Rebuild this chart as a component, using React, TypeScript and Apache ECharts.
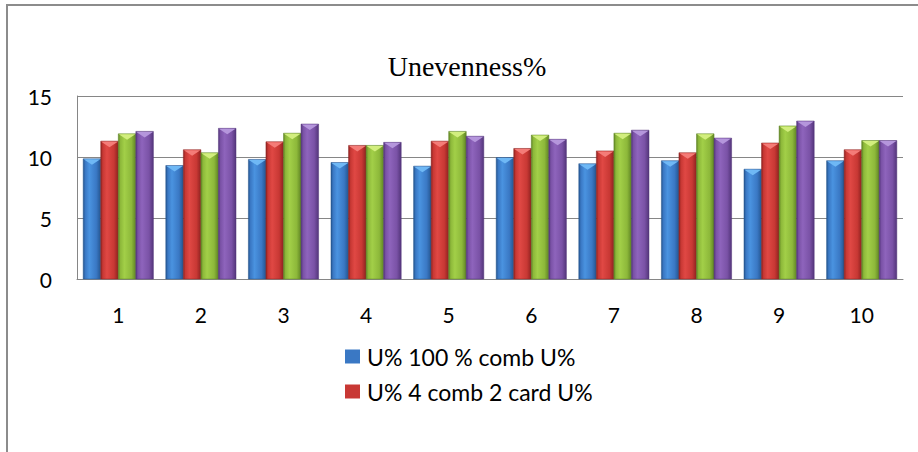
import React, { useEffect, useRef } from "react";
import * as echarts from "echarts";

const categories = ["1", "2", "3", "4", "5", "6", "7", "8", "9", "10"];
const comb100 = [9.85, 9.3, 9.8, 9.55, 9.25, 9.95, 9.45, 9.7, 9.0, 9.7];
const comb4card2 = [11.3, 10.6, 11.25, 10.95, 11.3, 10.7, 10.5, 10.35, 11.15, 10.6];
const series3 = [11.9, 10.35, 11.95, 10.95, 12.1, 11.8, 11.95, 11.9, 12.55, 11.35];
const series4 = [12.1, 12.35, 12.7, 11.2, 11.7, 11.45, 12.2, 11.55, 12.95, 11.35];
const seriesNames = ["U% 100 % comb U%", "U% 4 comb 2 card U%", "Series 3", "Series 4"];
const yTicks = [0, 5, 10, 15];

// base, dark edge, light centre, bevel cap
const palettes = [
  ["#3A78C4", "#24558F", "#4A93E0", "#6FB8F5"],
  ["#C83834", "#8E2220", "#E04844", "#F47C78"],
  ["#8DB83A", "#5F8424", "#A2CF48", "#D2EE7E"],
  ["#7A52A6", "#53357A", "#8E64BC", "#B596DC"],
];

const App: React.FC = () => {
  const ref = useRef<HTMLDivElement>(null);

  useEffect(() => {
    if (!ref.current) return;
    const chart = echarts.init(ref.current, undefined, { renderer: "svg" });
    const all = [comb100, comb4card2, series3, series4];

    const makeSeries = (values: number[], si: number) => ({
      type: "custom",
      name: seriesNames[si],
      data: values.map((v, i) => [i, v]),
      encode: { x: 0, y: 1 },
      itemStyle: { color: palettes[si][0] },
      renderItem: (_params: any, api: any) => {
        const idx = api.value(0);
        const val = api.value(1);
        const top = api.coord([idx, val]);
        const base = api.coord([idx, 0]);
        const band = api.size([1, 0])[0];
        const w = (band * 0.85) / 4;
        const x = top[0] - 2 * w + si * w;
        const yTop = top[1];
        const h = base[1] - yTop;
        const p = palettes[si];
        const cap = Math.min(6, h);
        return {
          type: "group",
          children: [
            {
              type: "rect",
              shape: { x, y: yTop, width: w, height: h },
              style: {
                fill: new echarts.graphic.LinearGradient(0, 0, 1, 0, [
                  { offset: 0, color: p[1] },
                  { offset: 0.12, color: p[0] },
                  { offset: 0.35, color: p[2] },
                  { offset: 0.75, color: p[0] },
                  { offset: 1, color: p[1] },
                ]),
                stroke: p[1],
                lineWidth: 0.5,
              },
            },
            {
              type: "polygon",
              shape: {
                points: [
                  [x + 0.5, yTop + 0.5],
                  [x + w - 0.5, yTop + 0.5],
                  [x + w / 2, yTop + cap],
                ],
              },
              style: { fill: p[3] },
            },
          ],
        };
      },
    });

    chart.setOption({
      animation: false,
      textStyle: { fontFamily: "Lato" },
      title: {
        text: "Unevenness%",
        left: 462,
        top: 47,
        textAlign: "center",
        textStyle: {
          fontFamily: "Liberation Serif",
          fontWeight: "normal",
          fontSize: 28,
          color: "#000",
        },
      },
      grid: { left: 77, right: 15, top: 96, bottom: 173 },
      legend: {
        data: [seriesNames[0], seriesNames[1]],
        orient: "vertical",
        left: 340,
        top: 340,
        itemGap: 12,
        itemWidth: 15,
        itemHeight: 14,
        icon: "rect",
        textStyle: {
          fontFamily: "Lato",
          fontSize: 23,
          lineHeight: 23,
          color: "#000",
          padding: [0, 0, 0, 2],
        },
      },
      xAxis: {
        type: "category",
        data: categories,
        axisLine: { lineStyle: { color: "#868686", width: 1 } },
        axisTick: { show: false },
        axisLabel: { fontSize: 21, color: "#000", margin: 25 },
      },
      yAxis: {
        type: "value",
        min: 0,
        max: 15,
        interval: 5,
        axisLine: { show: true, lineStyle: { color: "#868686", width: 1 } },
        axisTick: { show: false },
        splitLine: { lineStyle: { color: "#868686", width: 1 } },
        axisLabel: {
          fontSize: 21,
          color: "#000",
          margin: 25,
          formatter: (v: number) => (yTicks.includes(v) ? String(v) : ""),
        },
      },
      graphic: [
        {
          type: "rect",
          shape: { x: 7, y: 5, width: 1000, height: 600 },
          style: { fill: "none", stroke: "#8c8c8c", lineWidth: 2 },
          silent: true,
        },
      ],
      series: all.map((v, i) => makeSeries(v, i)),
    });

    return () => chart.dispose();
  }, []);

  return (
    <div
      ref={ref}
      style={{ position: "fixed", left: 0, top: 0, width: 918, height: 452, background: "#fff" }}
    />
  );
};

export default App;
